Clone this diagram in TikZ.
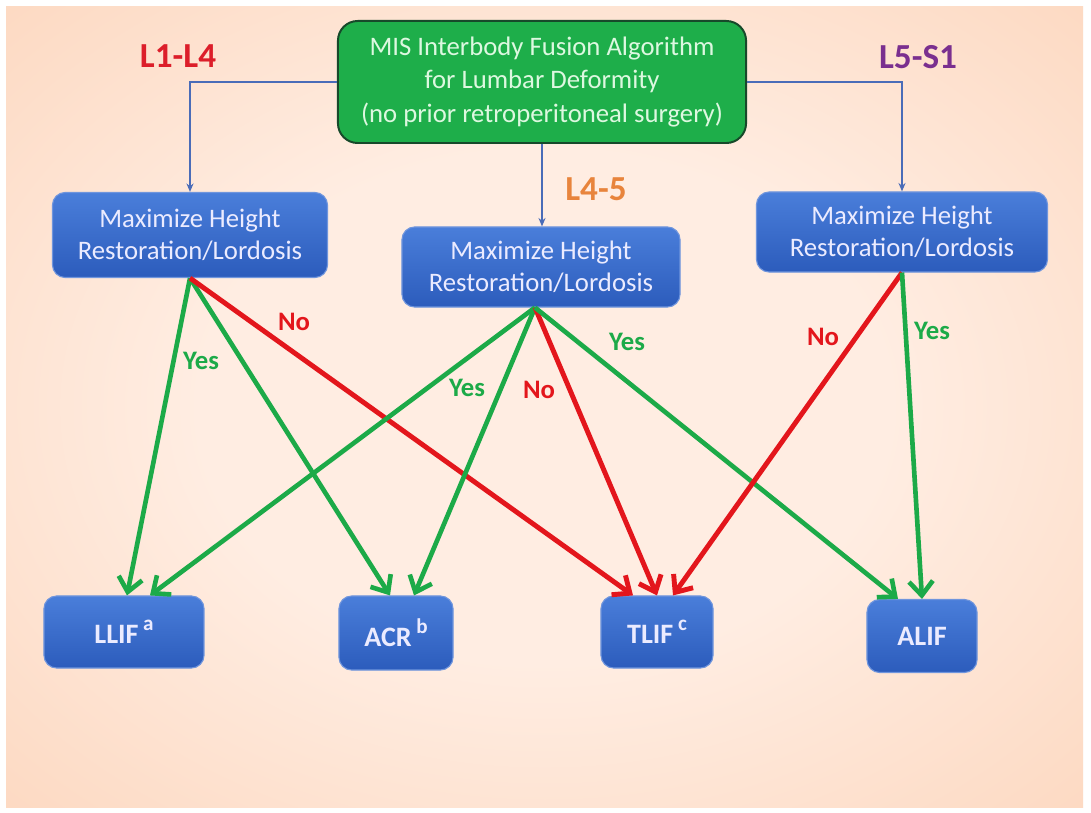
\documentclass[tikz,border=0pt]{standalone}
\usepackage{fontspec}
\setmainfont{Carlito}
\usetikzlibrary{arrows.meta,positioning,calc}
\definecolor{bginner}{HTML}{FFEDE2}
\definecolor{bgmid}{HTML}{FCD3B8}
\definecolor{bgouter}{HTML}{F7B88E}
\definecolor{topfill}{HTML}{1EAE4A}
\definecolor{topdraw}{HTML}{17492A}
\definecolor{toptext}{HTML}{DDF8E0}
\definecolor{boxtop}{HTML}{4A7EDA}
\definecolor{boxbot}{HTML}{2C5CBC}
\definecolor{boxdraw}{HTML}{6F95DD}
\definecolor{linkblue}{HTML}{4A6CB8}
\definecolor{yesgreen}{HTML}{1CAA48}
\definecolor{nored}{HTML}{E3161C}
\definecolor{lvlred}{HTML}{DC1E2A}
\definecolor{lvlorange}{HTML}{E8843C}
\definecolor{lvlpurple}{HTML}{7A2F8F}
\pgfdeclareradialshading{peach}{\pgfpoint{0bp}{0bp}}{color(0bp)=(bginner); color(16bp)=(bginner); color(42bp)=(bgmid); color(72bp)=(bgouter)}
\newcommand{\supmark}[1]{\,\raisebox{0.45em}{\fontsize{15}{15}\selectfont #1}}

\begin{document}
\begin{tikzpicture}[x=0.025cm, y=-0.025cm,
  algo/.style={draw=topdraw, line width=1.4pt, fill=topfill, rounded corners=14pt, minimum width=10.2cm, minimum height=3.05cm, align=center, text=toptext, font=\fontsize{19}{23.5}\selectfont},
  decide/.style={draw=boxdraw, line width=0.8pt, top color=boxtop, bottom color=boxbot, rounded corners=9pt, minimum height=2cm, align=center, text=white!92!blue, font=\fontsize{19}{23}\selectfont},
  proc/.style={draw=boxdraw, line width=0.8pt, top color=boxtop, bottom color=boxbot, rounded corners=9pt, minimum height=1.8cm, align=center, text=white!92!blue, font=\bfseries\fontsize{20}{24}\selectfont},
  level/.style={font=\bfseries\fontsize{25}{30}\selectfont},
  link/.style={-{Stealth[length=6pt,width=5pt]}, line width=1.3pt, linkblue},
  yesarr/.style={-{Straight Barb[length=10pt,width=17pt]}, line width=3.3pt, yesgreen},
  noarr/.style={-{Straight Barb[length=10pt,width=17pt]}, line width=3.5pt, nored},
  yeslbl/.style={text=yesgreen, font=\bfseries\fontsize{19}{23}\selectfont},
  nolbl/.style={text=nored, font=\bfseries\fontsize{19}{23}\selectfont}
]
  \useasboundingbox (0,0) rectangle (1091,813);
  \fill[white] (0,0) rectangle (1091,813);
  \shade[shading=peach] (6,7) rectangle (1083,807);

  % algorithm and the three level decisions
  \node[algo] (algo) at (542,82) {MIS Interbody Fusion Algorithm\\for Lumbar Deformity\\(no prior retroperitoneal surgery)};
  \node[decide, minimum width=6.875cm, minimum height=2.125cm] (hL) at (190,235) {Maximize Height\\Restoration/Lordosis};
  \node[decide, minimum width=6.95cm] (hM) at (541,267) {Maximize Height\\Restoration/Lordosis};
  \node[decide, minimum width=7.275cm] (hR) at (902,232) {Maximize Height\\Restoration/Lordosis};

  \node[level, text=lvlred] (l14) at (178,56) {L1-L4};
  \node[level, text=lvlorange] (l45) at (596,189) {L4-5};
  \node[level, text=lvlpurple] (l5s1) at (918,57) {L5-S1};

  % procedures
  \node[proc, minimum width=4cm] (llif) at (124,632) {LLIF\supmark{a}};
  \node[proc, minimum width=2.85cm, minimum height=1.85cm] (acr) at (396,633) {ACR\supmark{b}};
  \node[proc, minimum width=2.8cm] (tlif) at (657,632) {TLIF\supmark{c}};
  \node[proc, minimum width=2.75cm, minimum height=1.825cm] (alif) at (922,636) {ALIF};

  % arrow ends
  \coordinate (hMs) at ($(hM.south)+(-6,0)$);
  \coordinate (llif1) at ($(llif.north)+(3,0)$);
  \coordinate (llif2) at ($(llif.north)+(26,0)$);
  \coordinate (acr1) at ($(acr.north)+(-6,0)$);
  \coordinate (acr2) at ($(acr.north)+(18,0)$);
  \coordinate (tlif1) at ($(tlif.north)+(-24,0)$);
  \coordinate (tlif3) at ($(tlif.north)+(16,0)$);
  \coordinate (alif1) at ($(alif.north)+(-24,0)$);

  \draw[link] (algo.west) -| (hL.north);
  \draw[link] (algo.east) -| (hR.north);
  \draw[link] (algo.south) -- (algo.south |- hM.north);

  \draw[yesarr] (hL.south) -- (llif1);
  \draw[yesarr] (hL.south) -- (acr1);
  \draw[noarr] (hL.south) -- (tlif1);
  \draw[yesarr] (hMs) -- (llif2);
  \draw[yesarr] (hMs) -- (acr2);
  \draw[noarr] (hMs) -- (tlif.north);
  \draw[yesarr] (hMs) -- (alif1);
  \draw[noarr] (hR.south) -- (tlif3);
  \draw[yesarr] (hR.south) -- (alif.north);

  \node[yeslbl] (yL) at (201,361) {Yes};
  \node[nolbl] (nL) at (294,322) {No};
  \node[yeslbl] (yM1) at (467,388) {Yes};
  \node[nolbl] (nM) at (539,390) {No};
  \node[yeslbl] (yM2) at (627,342) {Yes};
  \node[nolbl] (nR) at (823,337) {No};
  \node[yeslbl] (yR) at (932,331) {Yes};
\end{tikzpicture}
\end{document}
